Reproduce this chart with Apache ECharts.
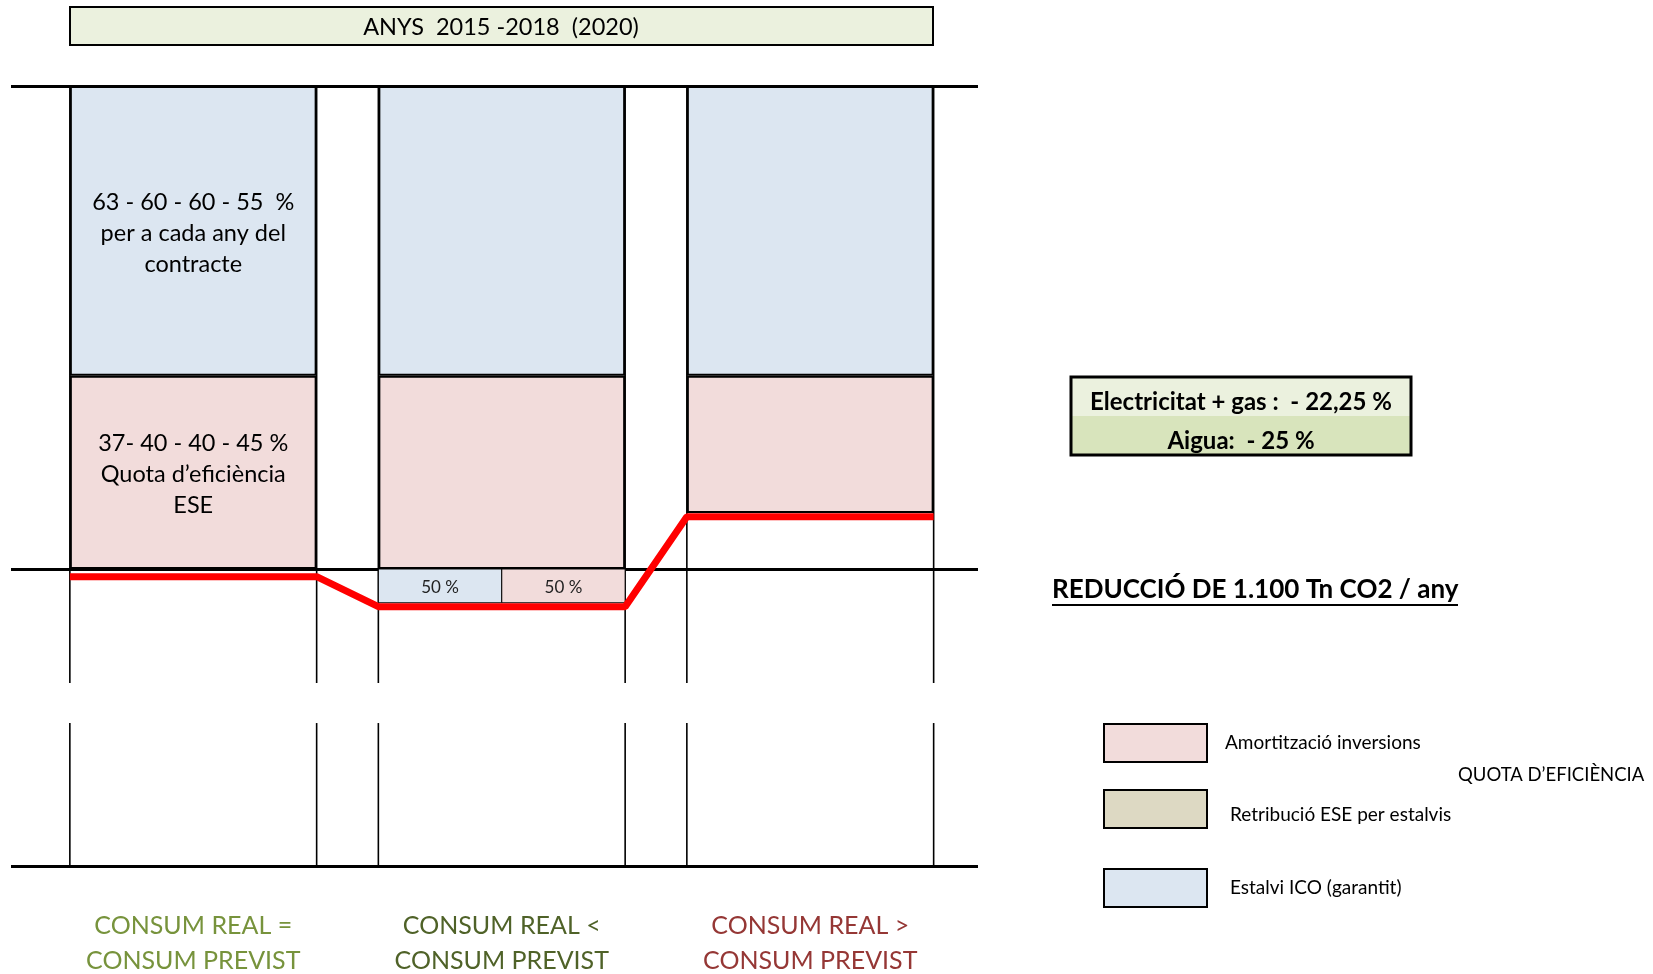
<!DOCTYPE html>
<html><head><meta charset="utf-8">
<script src="https://cdn.jsdelivr.net/npm/echarts@6/dist/echarts.min.js"></script>
<style>html,body{margin:0;padding:0;background:#fff}#chart{width:1653px;height:974px}</style>
</head><body><div id="chart"></div>
<script>
// ---- data ----
const categories = ['CONSUM REAL =\nCONSUM PREVIST', 'CONSUM REAL <\nCONSUM PREVIST', 'CONSUM REAL >\nCONSUM PREVIST'];
const categoryColors = ['#77933c', '#4f6228', '#953735'];
const gapShare = [0, 0, 11.6];
const quotaShare = [40, 40, 28.4];
const savingShare = [60, 60, 60];
const realConsumption = [-1.6, -7.8, 10.8];
const splitDepth = [null, -7, null];
const splitLabels = ['50 %', '50 %'];
const savingNotes = ['63 - 60 - 60 - 55  %\nper a cada any del\ncontracte', '', ''];
const quotaNotes = ['37- 40 - 40 - 45 %\nQuota d\u2019efici\u00e8ncia\nESE', '', ''];
const referenceLines = [100, 0, -61.5];
const axisBreak = [-23.6, -31.9];
const yMin = -61.5, yMax = 100;
const seriesNames = ['Amortitzaci\u00f3 inversions', 'Retribuci\u00f3 ESE per estalvis', 'Estalvi ICO (garantit)'];
const titleText = 'ANYS  2015 -2018  (2020)';
const boxLines = ['Electricitat + gas :  - 22,25 %', 'Aigua:  - 25 %'];
const co2Text = 'REDUCCI\u00d3 DE 1.100 Tn CO2 / any';
const quotaTitle = 'QUOTA D\u2019EFICI\u00c8NCIA';

// ---- styles ----
const FONT = 'Lato, "Open Sans", sans-serif';
const BLUE = '#dce6f1', PINK = '#f2dcdb', TAN = '#ddd9c3';
const HALF = 0.4; // half of bar width in band units (barWidth 80%)

const chart = echarts.init(document.getElementById('chart'));

const redPoints = [];
realConsumption.forEach((v, i) => { redPoints.push([i - HALF, v]); redPoints.push([i + HALF, v]); });

const splitData = [];
splitDepth.forEach((d, i) => { if (d !== null) splitData.push([i, d]); });

const barLabel = (txt, dy) => txt ? { show: true, position: 'inside', offset: [0, dy], formatter: txt, color: '#000', fontSize: 23.5, lineHeight: 31, fontFamily: FONT } : { show: false };

const option = {
  animation: false,
  backgroundColor: '#fff',
  grid: [
    { left: 11, right: 675, top: 86, bottom: 108, containLabel: false, outerBoundsMode: 'none' },
    { left: 39, right: 688.5, top: 86, bottom: 108, containLabel: false, outerBoundsMode: 'none' }
  ],
  xAxis: [
    { type: 'value', gridIndex: 0, min: 0, max: 1, show: false },
    { type: 'category', gridIndex: 1, data: categories, position: 'bottom',
      axisLine: { show: false }, axisTick: { show: false }, splitLine: { show: false },
      axisLabel: { interval: 0, margin: 42, fontSize: 25, lineHeight: 35, fontFamily: FONT,
        color: (v, i) => categoryColors[i] } },
    { type: 'value', gridIndex: 1, min: -0.5, max: 2.5, show: false }
  ],
  yAxis: [
    { type: 'value', gridIndex: 0, min: yMin, max: yMax, show: false },
    { type: 'value', gridIndex: 1, min: yMin, max: yMax, show: false }
  ],
  legend: [0, 1, 2].map((k, j) => ({
    data: [seriesNames[k]], left: 1103, top: [723, 789, 868][j], orient: 'vertical', padding: 0,
    itemWidth: 103, itemHeight: 38, icon: 'rect', selectedMode: false,
    itemStyle: { borderColor: '#000', borderWidth: 2 },
    formatter: '{t|{name}}',
    textStyle: { fontFamily: FONT, fontSize: 19, color: '#000', padding: [0, 0, 0, j === 0 ? 13 : 18],
      rich: { t: { fontFamily: FONT, fontSize: 19, color: '#000', padding: [j === 1 ? 12 : 0, 0, 0, 0] } } }
  })),
  graphic: [
    { type: 'rect', shape: { x: 70, y: 7, width: 863, height: 38 }, style: { fill: '#ebf1de', stroke: '#000', lineWidth: 2 } },
    { type: 'text', style: { text: titleText, x: 501, y: 27, align: 'center', verticalAlign: 'middle', font: '23.5px ' + FONT, fill: '#000' } },
    { type: 'rect', shape: { x: 1071, y: 377, width: 340, height: 39 }, style: { fill: '#ebf1de' } },
    { type: 'rect', shape: { x: 1071, y: 416, width: 340, height: 39 }, style: { fill: '#d8e4bc' } },
    { type: 'rect', shape: { x: 1071, y: 377, width: 340, height: 78 }, style: { fill: 'none', stroke: '#000', lineWidth: 3 } },
    { type: 'text', style: { text: boxLines[0], x: 1241, y: 402, align: 'center', verticalAlign: 'middle', font: 'bold 24px ' + FONT, fill: '#000' } },
    { type: 'text', style: { text: boxLines[1], x: 1241, y: 441, align: 'center', verticalAlign: 'middle', font: 'bold 24px ' + FONT, fill: '#000' } },
    { type: 'text', style: { text: co2Text, x: 1052, y: 590, align: 'left', verticalAlign: 'middle', font: 'bold 26px ' + FONT, fill: '#000' } },
    { type: 'line', shape: { x1: 1052, y1: 605, x2: 1458, y2: 605 }, style: { stroke: '#000', lineWidth: 2 } },
    { type: 'text', style: { text: quotaTitle, x: 1458, y: 775, align: 'left', verticalAlign: 'middle', font: '18.5px ' + FONT, fill: '#000' } }
  ],
  series: [
    { name: 'frame', type: 'line', xAxisIndex: 0, yAxisIndex: 0, data: [], silent: true, z: 6,
      markLine: { symbol: 'none', silent: true, label: { show: false },
        lineStyle: { color: '#000', width: 3, type: 'solid' },
        data: referenceLines.map(v => ({ yAxis: v })) } },
    { name: 'gap', type: 'bar', xAxisIndex: 1, yAxisIndex: 1, stack: 'total', barWidth: '80%', silent: true,
      data: gapShare, itemStyle: { color: 'rgba(0,0,0,0)', borderWidth: 0 } },
    { name: seriesNames[0], type: 'bar', xAxisIndex: 1, yAxisIndex: 1, stack: 'total', barWidth: '80%',
      data: quotaShare.map((v, i) => ({ value: v, label: barLabel(quotaNotes[i], 2) })),
      itemStyle: { color: PINK, borderColor: '#000', borderWidth: 2 } },
    { name: seriesNames[1], type: 'bar', xAxisIndex: 1, yAxisIndex: 1, stack: 'total', barWidth: '80%',
      data: [], itemStyle: { color: TAN, borderColor: '#000', borderWidth: 2 } },
    { name: seriesNames[2], type: 'bar', xAxisIndex: 1, yAxisIndex: 1, stack: 'total', barWidth: '80%',
      data: savingShare.map((v, i) => ({ value: v, label: barLabel(savingNotes[i], 3) })),
      itemStyle: { color: BLUE, borderColor: '#000', borderWidth: 2 } },
    { name: 'edges', type: 'custom', xAxisIndex: 2, yAxisIndex: 1, silent: true, z: 4,
      data: categories.map((c, i) => [i]),
      renderItem: (params, api) => {
        const i = api.value(0);
        const children = [];
        [i - HALF, i + HALF].forEach(x => {
          const a = api.coord([x, yMax]), b = api.coord([x, axisBreak[0]]);
          const c = api.coord([x, axisBreak[1]]), d = api.coord([x, yMin]);
          children.push({ type: 'line', shape: { x1: a[0], y1: a[1], x2: b[0], y2: b[1] }, style: { stroke: '#000', lineWidth: 1.6 } });
          children.push({ type: 'line', shape: { x1: c[0], y1: c[1], x2: d[0], y2: d[1] }, style: { stroke: '#000', lineWidth: 1.6 } });
        });
        return { type: 'group', children };
      } },
    { name: 'split', type: 'custom', xAxisIndex: 2, yAxisIndex: 1, silent: true, z: 5,
      data: splitData,
      renderItem: (params, api) => {
        const i = api.value(0), d = api.value(1);
        const p0 = api.coord([i - HALF, 0]), pm = api.coord([i, d]), p1 = api.coord([i + HALF, d]);
        return { type: 'group', children: [
          { type: 'rect', shape: { x: p0[0], y: p0[1], width: pm[0] - p0[0], height: pm[1] - p0[1] }, style: { fill: BLUE, stroke: '#000', lineWidth: 1 } },
          { type: 'rect', shape: { x: pm[0], y: p0[1], width: p1[0] - pm[0], height: p1[1] - p0[1] }, style: { fill: PINK, stroke: '#000', lineWidth: 1 } },
          { type: 'text', style: { text: splitLabels[0], x: (p0[0] + pm[0]) / 2, y: (p0[1] + pm[1]) / 2 + 2, align: 'center', verticalAlign: 'middle', font: '17px ' + FONT, fill: '#222' } },
          { type: 'text', style: { text: splitLabels[1], x: (pm[0] + p1[0]) / 2, y: (p0[1] + pm[1]) / 2 + 2, align: 'center', verticalAlign: 'middle', font: '17px ' + FONT, fill: '#222' } }
        ] };
      } },
    { name: 'consum', type: 'line', xAxisIndex: 2, yAxisIndex: 1, data: redPoints, symbol: 'none', z: 10, silent: true,
      lineStyle: { color: '#ff0000', width: 7 } }
  ]
};
chart.setOption(option);
</script>
</body></html>
